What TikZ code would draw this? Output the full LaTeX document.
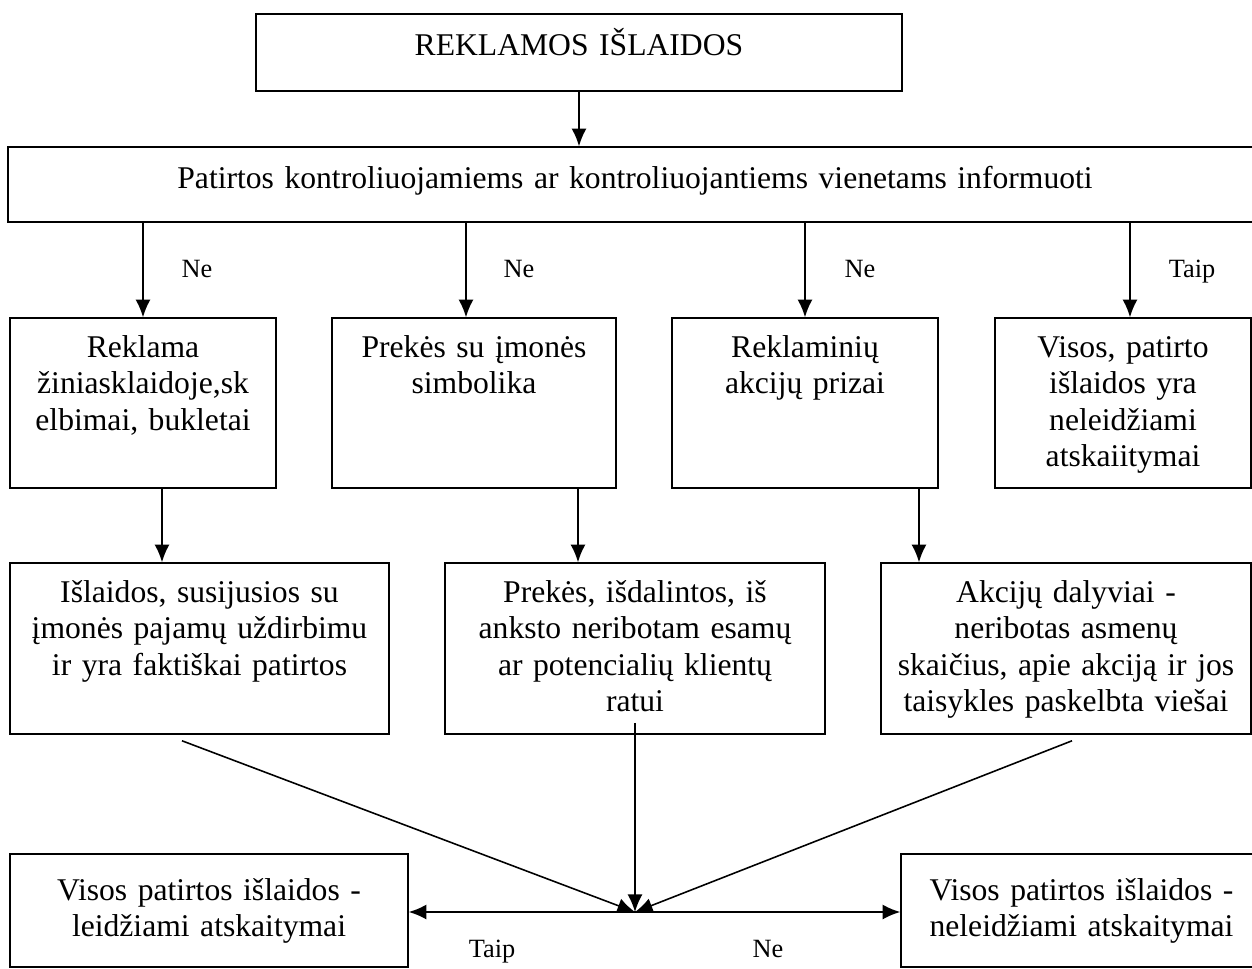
\documentclass[tikz,border=0pt]{standalone}
\usepackage{fontspec}
\setmainfont{Liberation Serif}
\usetikzlibrary{arrows.meta}
\tikzset{>={Latex[length=10pt,width=8.5pt]}}
\tikzset{
  box/.style={rectangle,draw,align=center,inner sep=0pt,font=\fontsize{18}{20.8}\selectfont},
  lbl/.style={anchor=base,font=\fontsize{15}{18}\selectfont},
}

\begin{document}
\begin{tikzpicture}[x=0.02cm,y=-0.02cm,line width=0.9pt]
    \useasboundingbox (0,0) rectangle (1252,968);
    % top
    \node at (579,52.5) [box,text width=12.92cm,text height=0.82cm,text depth=0.72cm] (rekl) {REKLAMOS IŠLAIDOS};
    \node at (635,184.5) [box,text width=25.08cm,text height=0.82cm,text depth=0.68cm] (cond) {Patirtos kontroliuojamiems ar kontroliuojantiems vienetams informuoti};
    % second row
    \node at (143,403) [box,text width=5.32cm,text height=0.78cm,text depth=2.62cm] (b1) {Reklama\\ žiniasklaidoje,sk\\ elbimai, bukletai};
    \node at (474,403) [box,text width=5.68cm,text height=0.78cm,text depth=2.62cm] (b2) {Prekės su įmonės\\ simbolika};
    \node at (805,403) [box,text width=5.32cm,text height=0.78cm,text depth=2.62cm] (b3) {Reklaminių\\ akcijų prizai};
    \node at (1123,403) [box,text width=5.12cm,text height=0.78cm,text depth=2.62cm] (b4) {Visos, patirto\\ išlaidos yra\\ neleidžiami\\ atskaiitymai};
    % third row
    \node at (199.5,648.5) [box,text width=7.58cm,text height=0.78cm,text depth=2.64cm] (b5) {Išlaidos, susijusios su\\ įmonės pajamų uždirbimu\\ ir yra faktiškai patirtos};
    \node at (635,648.5) [box,text width=7.6cm,text height=0.78cm,text depth=2.64cm] (b6) {Prekės, išdalintos, iš\\ anksto neribotam esamų\\ ar potencialių klientų\\ ratui};
    \node at (1066,648.5) [box,text width=7.4cm,text height=0.78cm,text depth=2.64cm] (b7) {Akcijų dalyviai -\\ neribotas asmenų\\ skaičius, apie akciją ir jos\\ taisykles paskelbta viešai};
    % bottom
    \node at (209,910.5) [box,text width=7.96cm,text height=0.92cm,text depth=1.34cm] (bl) {Visos patirtos išlaidos -\\ leidžiami atskaitymai};
    \node at (1081.5,910.5) [box,text width=7.22cm,text height=0.92cm,text depth=1.34cm] (br) {Visos patirtos išlaidos -\\ neleidžiami atskaitymai};
    \coordinate (j) at (635,912);
    % labels
    \node at (197,277) [lbl] (ne1) {Ne};
    \node at (519,277) [lbl] (ne2) {Ne};
    \node at (860,277) [lbl] (ne3) {Ne};
    \node at (1192,277) [lbl] (taip1) {Taip};
    \node at (492,957) [lbl] (taip2) {Taip};
    \node at (768,957) [lbl] (ne4) {Ne};
    % arrows
    \draw [->] (rekl.south) -- (rekl.south |- cond.north);
    \draw [->] (cond.south -| b1.north) -- (b1.north);
    \draw [->] ([xshift=-0.16cm]b2.north |- cond.south) -- ([xshift=-0.16cm]b2.north);
    \draw [->] (cond.south -| b3.north) -- (b3.north);
    \draw [->] ([xshift=0.14cm]b4.north |- cond.south) -- ([xshift=0.14cm]b4.north);
    \draw [->] ([xshift=0.38cm]b1.south) -- ([xshift=0.38cm]b1.south |- b5.north);
    \draw [->] ([xshift=2.08cm]b2.south) -- ([xshift=2.08cm]b2.south |- b6.north);
    \draw [->] ([xshift=2.28cm]b3.south) -- ([xshift=2.28cm]b3.south |- b7.north);
    \draw [->] ([shift={(-17.5,6)}]b5.south) -- (j);
    \draw [->] ([yshift=0.24cm]b6.south) -- (j);
    \draw [->] ([shift={(6,6)}]b7.south) -- (j);
    \draw [->] (j) -- (j -| bl.east);
    \draw [->] (j) -- (j -| br.west);
\end{tikzpicture}
\end{document}
